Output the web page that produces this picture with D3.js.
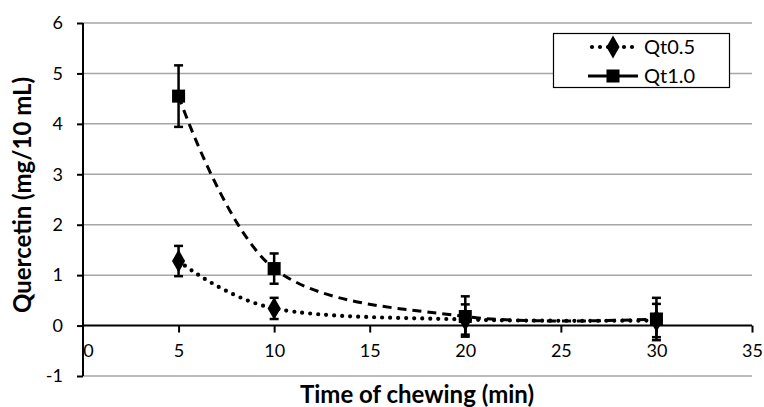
<!DOCTYPE html>
<meta charset="utf-8">
<style>
body { margin: 0; background: #fff; }
text { font-family: Lato, "Open Sans", sans-serif; fill: #000; }
.tick text { font-size: 18px; }
.grid line { stroke: #a6a6a6; stroke-width: 1.5; }
</style>
<body>
<div id="chart"></div>
<script src="https://d3js.org/d3.v7.min.js"></script>
<script>
// values
var time = [5, 10, 20, 30];
var qt05 = [1.28, 0.34, 0.12, 0.10];
var qt05Err = [0.30, 0.21, 0.30, 0.33];
var qt10 = [4.55, 1.13, 0.18, 0.13];
var qt10Err = [0.61, 0.30, 0.40, 0.42];
var xTicks = [0, 5, 10, 15, 20, 25, 30, 35];
var yTicks = [-1, 0, 1, 2, 3, 4, 5, 6];
var seriesNames = ["Qt0.5", "Qt1.0"];

var width = 764, height = 407;

var svg = d3.select("#chart").append("svg")
    .attr("width", width)
    .attr("height", height);

var x = d3.scaleLinear().domain([0, 35]).range([83, 752]);
var y = d3.scaleLinear().domain([-1, 6]).range([376, 23]);

// gridlines (except 0, where the x axis sits)
svg.append("g")
    .attr("class", "grid")
  .selectAll("line")
  .data(yTicks.filter(function(d) { return d !== 0; }))
  .enter().append("line")
    .attr("x1", x(0))
    .attr("x2", x(35))
    .attr("y1", function(d) { return y(d); })
    .attr("y2", function(d) { return y(d); });

// y axis (plain hyphen for the negative label, like the original)
var yAxis = svg.append("g")
    .attr("transform", "translate(" + x(0) + ",0)")
    .call(d3.axisLeft(y).tickValues(yTicks).tickSize(6).tickPadding(14)
      .tickFormat(function(d) { return String(d); }));
yAxis.select(".domain").attr("stroke-width", 2).attr("d", "M0," + y(-1) + "V" + y(6));
yAxis.selectAll(".tick line").attr("stroke-width", 2);

// x axis crossing at y = 0
var xAxis = svg.append("g")
    .attr("transform", "translate(0," + y(0) + ")")
    .call(d3.axisBottom(x).tickValues(xTicks).tickSize(7).tickPadding(12));
xAxis.select(".domain").attr("stroke-width", 2).attr("d", "M" + x(0) + ",0H" + x(35));
xAxis.selectAll(".tick line").attr("stroke-width", 2);
xAxis.selectAll(".tick")
    .filter(function(d) { return d === 0; })
    .select("line").remove();
xAxis.selectAll(".tick text").attr("dx", function(d) { return d === 0 ? 5 : 0; });

// axis titles
svg.append("text")
    .attr("x", 417)
    .attr("y", 403)
    .attr("text-anchor", "middle")
    .attr("font-size", "24px")
    .attr("font-weight", "bold")
    .text("Time of chewing (min)");

svg.append("text")
    .attr("transform", "translate(31,195) rotate(-90)")
    .attr("text-anchor", "middle")
    .attr("font-size", "24px")
    .attr("font-weight", "bold")
    .text("Quercetin (mg/10 mL)");

var line = d3.line()
    .x(function(d) { return x(d[0]); })
    .y(function(d) { return y(d[1]); })
    .curve(d3.curveCardinal.tension(0));

var series = [
  { name: seriesNames[0], vals: qt05, err: qt05Err, dash: "0 8", width: 4.2, cap: "round", shape: d3.symbolDiamond, size: 150 },
  { name: seriesNames[1], vals: qt10, err: qt10Err, dash: "9 6", width: 3, cap: "butt", shape: d3.symbolSquare, size: 170 }
];

series.forEach(function(s) {
  var pts = time.map(function(t, i) { return [t, s.vals[i], s.err[i]]; });

  svg.append("path")
      .datum(pts)
      .attr("fill", "none")
      .attr("stroke", "#000")
      .attr("stroke-width", s.width)
      .attr("stroke-linecap", s.cap)
      .attr("stroke-dasharray", s.dash)
      .attr("d", line);

  var eb = svg.append("g").attr("stroke", "#000").attr("stroke-width", 2.5);
  eb.selectAll(".bar").data(pts).enter().append("line")
      .attr("x1", function(d) { return x(d[0]); })
      .attr("x2", function(d) { return x(d[0]); })
      .attr("y1", function(d) { return y(d[1] + d[2]); })
      .attr("y2", function(d) { return y(d[1] - d[2]); });
  [1, -1].forEach(function(sg) {
    eb.selectAll(".cap" + sg).data(pts).enter().append("line")
        .attr("x1", function(d) { return x(d[0]) - 4.5; })
        .attr("x2", function(d) { return x(d[0]) + 4.5; })
        .attr("y1", function(d) { return y(d[1] + sg * d[2]); })
        .attr("y2", function(d) { return y(d[1] + sg * d[2]); });
  });

  svg.append("g").selectAll("path").data(pts).enter().append("path")
      .attr("transform", function(d) { return "translate(" + x(d[0]) + "," + y(d[1]) + ")"; })
      .attr("d", d3.symbol().type(s.shape).size(s.size))
      .attr("fill", "#000");
});

// legend
var legend = svg.append("g");
legend.append("rect")
    .attr("x", 553.5).attr("y", 33.5)
    .attr("width", 176).attr("height", 54)
    .attr("fill", "#fff").attr("stroke", "#000").attr("stroke-width", 1.2);

series.forEach(function(s, i) {
  var ly = 47 + i * 29;
  legend.append("line")
      .attr("x1", i === 0 ? 592 : 588).attr("x2", 638)
      .attr("y1", ly).attr("y2", ly)
      .attr("stroke", "#000")
      .attr("stroke-width", s.width)
      .attr("stroke-linecap", s.cap)
      .attr("stroke-dasharray", i === 0 ? "0 8" : null);
  legend.append("path")
      .attr("transform", "translate(613," + ly + ")")
      .attr("d", d3.symbol().type(s.shape).size(s.size))
      .attr("fill", "#000");
  legend.append("text")
      .attr("x", 644).attr("y", ly)
      .attr("dy", "0.35em")
      .attr("font-size", "20px")
      .text(s.name);
});
</script>
</body>
